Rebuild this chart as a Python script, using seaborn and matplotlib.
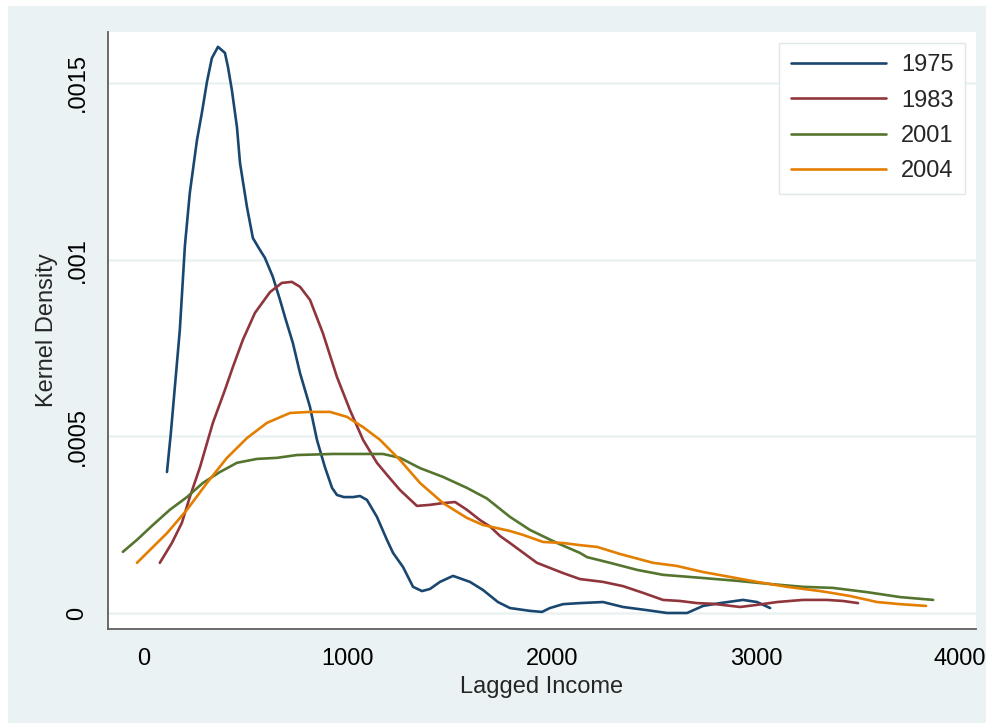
import pandas as pd
import seaborn as sns
import matplotlib.pyplot as plt
from matplotlib.patches import Rectangle
from matplotlib.lines import Line2D

# Kernel density of lagged income, by survey year
years = ["1975", "1983", "2001", "2004"]
colors = ["#1a476f", "#90353b", "#55752f", "#e37e00"]

x_1975 = [113, 132, 176, 201, 225, 260, 284, 309, 333, 363, 397, 412, 431, 456,
          471, 505, 534, 569, 593, 632, 667, 691, 730, 765, 814, 848, 887, 922,
          946, 980, 1025, 1059, 1093, 1142, 1191, 1221, 1270, 1319, 1363, 1402,
          1451, 1515, 1598, 1662, 1735, 1794, 1892, 1951, 1990, 2054, 2137, 2250,
          2348, 2466, 2564, 2662, 2740, 2824, 2936, 3005, 3069]
y_1975 = [0.000399, 0.000509, 0.000801, 0.001040, 0.001189, 0.001338, 0.001415,
          0.001503, 0.001570, 0.001602, 0.001585, 0.001545, 0.001480, 0.001375,
          0.001273, 0.001149, 0.001061, 0.001027, 0.001005, 0.000951, 0.000886,
          0.000838, 0.000764, 0.000679, 0.000583, 0.000490, 0.000413, 0.000354,
          0.000334, 0.000328, 0.000328, 0.000331, 0.000320, 0.000272, 0.000207,
          0.000170, 0.000130, 0.000074, 0.000062, 0.000068, 0.000088, 0.000105,
          0.000088, 0.000065, 0.000031, 0.000014, 0.000006, 0.000003, 0.000014,
          0.000025, 0.000028, 0.000031, 0.000017, 0.000008, 0.000000, 0.000000,
          0.000020, 0.000028, 0.000037, 0.000031, 0.000014]

x_1983 = [78, 137, 186, 225, 275, 338, 397, 436, 485, 544, 618, 676, 725, 765,
          814, 877, 946, 1010, 1074, 1142, 1191, 1255, 1338, 1402, 1466, 1525,
          1583, 1647, 1696, 1745, 1794, 1926, 2054, 2137, 2250, 2348, 2446, 2544,
          2627, 2711, 2789, 2922, 3005, 3103, 3230, 3348, 3426, 3500]
y_1983 = [0.000142, 0.000198, 0.000255, 0.000328, 0.000413, 0.000538, 0.000631,
          0.000696, 0.000773, 0.000849, 0.000908, 0.000934, 0.000937, 0.000923,
          0.000886, 0.000792, 0.000668, 0.000574, 0.000490, 0.000425, 0.000391,
          0.000348, 0.000303, 0.000306, 0.000311, 0.000314, 0.000292, 0.000263,
          0.000245, 0.000218, 0.000198, 0.000142, 0.000113, 0.000096, 0.000088,
          0.000076, 0.000057, 0.000037, 0.000034, 0.000028, 0.000026, 0.000017,
          0.000023, 0.000031, 0.000037, 0.000037, 0.000034, 0.000028]

x_2001 = [-103, -34, 44, 127, 211, 289, 373, 456, 554, 652, 750, 927, 1093, 1172,
          1255, 1353, 1466, 1583, 1681, 1794, 1892, 2025, 2137, 2172, 2284, 2417,
          2544, 2740, 2907, 3069, 3230, 3377, 3544, 3706, 3868]
y_2001 = [0.000173, 0.000207, 0.000249, 0.000292, 0.000328, 0.000368, 0.000399,
          0.000425, 0.000436, 0.000439, 0.000447, 0.000450, 0.000450, 0.000450,
          0.000439, 0.000410, 0.000385, 0.000354, 0.000324, 0.000272, 0.000235,
          0.000198, 0.000170, 0.000158, 0.000142, 0.000122, 0.000108, 0.000099,
          0.000091, 0.000082, 0.000074, 0.000071, 0.000059, 0.000045, 0.000037]

x_2004 = [-34, 29, 113, 211, 309, 407, 505, 603, 716, 814, 912, 995, 1074, 1157,
          1255, 1353, 1466, 1583, 1662, 1794, 1858, 1956, 2054, 2137, 2221, 2333,
          2495, 2613, 2740, 2873, 3005, 3152, 3314, 3348, 3461, 3593, 3706, 3833]
y_2004 = [0.000142, 0.000178, 0.000226, 0.000292, 0.000368, 0.000439, 0.000495,
          0.000538, 0.000566, 0.000569, 0.000569, 0.000555, 0.000526, 0.000490,
          0.000433, 0.000368, 0.000311, 0.000269, 0.000249, 0.000232, 0.000221,
          0.000201, 0.000198, 0.000192, 0.000187, 0.000167, 0.000142, 0.000133,
          0.000116, 0.000102, 0.000088, 0.000074, 0.000062, 0.000059, 0.000048,
          0.000031, 0.000025, 0.000020]

x_ticks = [0, 1000, 2000, 3000, 4000]
x_tick_labels = ["0", "1000", "2000", "3000", "4000"]
y_ticks = [0, 0.0005, 0.001, 0.0015]
y_tick_labels = ["0", ".0005", ".001", ".0015"]

series = {"1975": (x_1975, y_1975), "1983": (x_1983, y_1983),
          "2001": (x_2001, y_2001), "2004": (x_2004, y_2004)}
frames = []
for yr in years:
    xs, ys = series[yr]
    frames.append(pd.DataFrame({"income": xs, "density": ys, "year": yr}))
df = pd.concat(frames, ignore_index=True)

sns.set_theme(style="white")
plt.rcParams["font.family"] = ["Liberation Sans", "DejaVu Sans"]

W, H = 987, 723
fig = plt.figure(figsize=(W / 100, H / 100), dpi=100, facecolor="white")
panel_bg = "#eaf2f3"
fig.patches.append(Rectangle((8 / W, 0), (W - 8) / W, (H - 6) / H,
                             transform=fig.transFigure, facecolor=panel_bg,
                             edgecolor="none", zorder=-10))

ax = fig.add_axes([108 / W, 1 - 629 / H, (976 - 108) / W, (629 - 32) / H])
ax.set_facecolor("white")

sns.lineplot(data=df, x="income", y="density", hue="year", hue_order=years,
             palette=colors, sort=False, estimator=None, linewidth=1.9,
             legend=False, ax=ax)
for line in ax.get_lines():
    line.set_solid_joinstyle("round")
    line.set_solid_capstyle("round")

ax.set_xlim(-176, 4078)
ax.set_ylim(-0.0000453, 0.001644)
ax.set_xticks(x_ticks)
ax.set_xticklabels(x_tick_labels)
ax.set_yticks(y_ticks)
ax.set_yticklabels(y_tick_labels, rotation=90, va="center")

ax.yaxis.grid(True, color=panel_bg, linewidth=1.8)
ax.xaxis.grid(False)
ax.set_axisbelow(True)

for side in ("top", "right"):
    ax.spines[side].set_visible(False)
for side in ("left", "bottom"):
    ax.spines[side].set_color("#5f5f5f")
    ax.spines[side].set_linewidth(1.3)

ax.tick_params(axis="both", which="major", direction="out", length=6,
               width=1.0, color="#5f5f5f", labelsize=17, labelcolor="black")
ax.tick_params(axis="y", pad=8)
ax.tick_params(axis="x", pad=8)

ax.set_xlabel("Lagged Income", fontsize=17, labelpad=4)
ax.set_ylabel("Kernel Density", fontsize=17, labelpad=6)

handles = [Line2D([0], [0], color=c, linewidth=1.9) for c in colors]
leg = ax.legend(handles, years, loc="upper right", fontsize=17, frameon=True,
                fancybox=False, edgecolor="#dfe8ea", facecolor="white",
                framealpha=1, handlelength=4.0, handletextpad=0.65,
                labelspacing=0.56, borderpad=0.5, borderaxespad=0.45)
leg.get_frame().set_linewidth(1.0)

fig.savefig("out.png", dpi=100, facecolor=fig.get_facecolor())
